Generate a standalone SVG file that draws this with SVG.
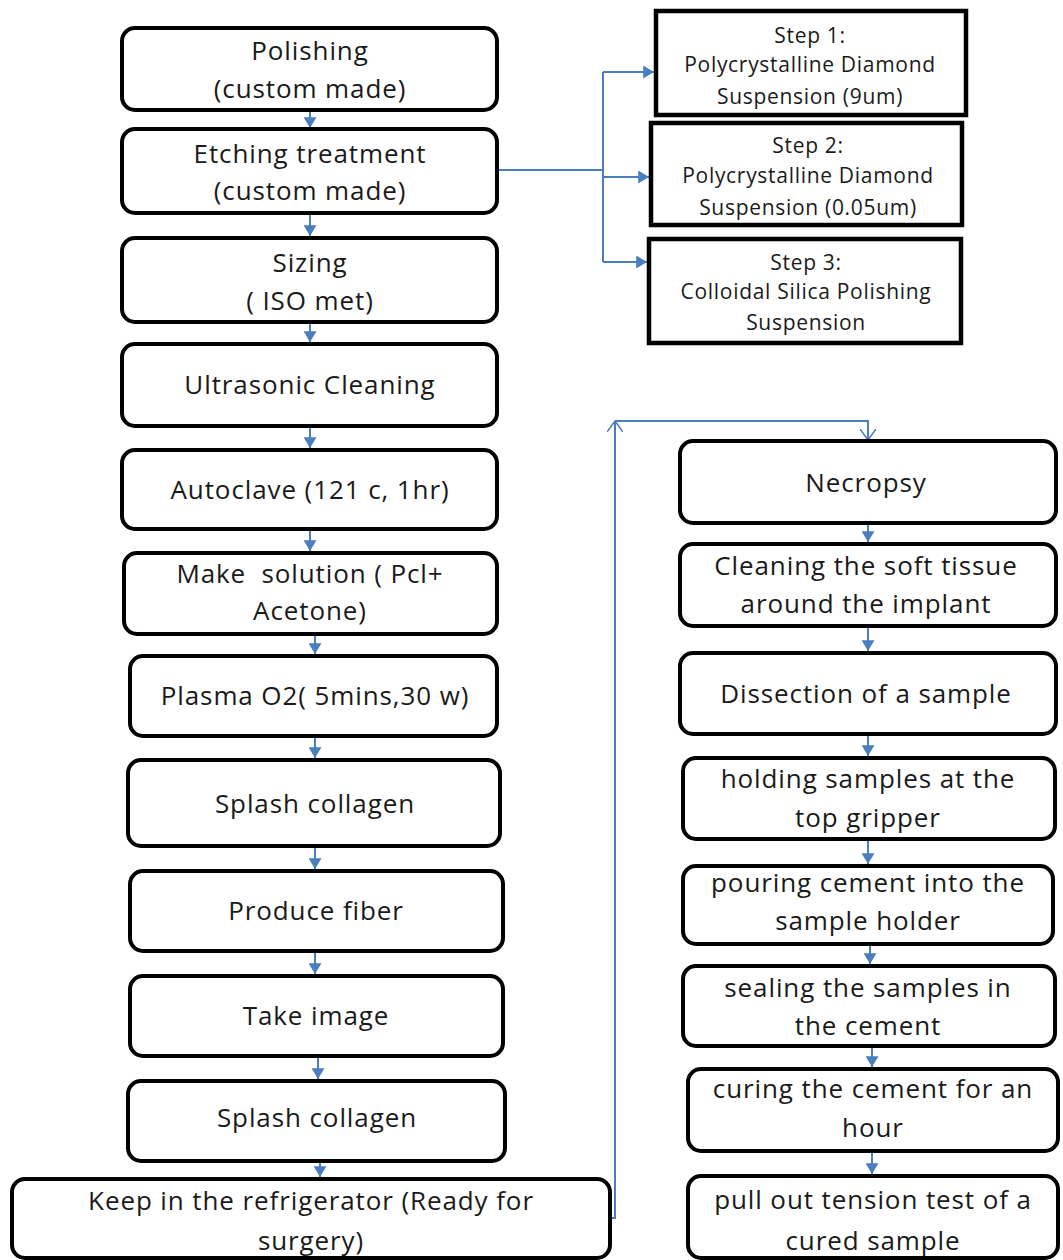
<svg xmlns="http://www.w3.org/2000/svg" width="1063" height="1260" viewBox="0 0 1063 1260">
<defs>
<style>
.b{fill:#fff;stroke:#000;stroke-width:4}
.s{fill:#fff;stroke:#000;stroke-width:4.5}
.t{font-family:"Open Sans","Liberation Sans",sans-serif;font-size:26px;letter-spacing:0.9px;fill:#1a1a1a;text-anchor:middle;dominant-baseline:central}
.u{font-family:"Open Sans","Liberation Sans",sans-serif;font-size:21px;letter-spacing:0.7px;fill:#1a1a1a;text-anchor:middle;dominant-baseline:central}
.c{fill:none;stroke:#4a7ebf;stroke-width:2}
</style>
<marker id="a" viewBox="0 0 10 12" refX="10" refY="6" markerWidth="11" markerHeight="13" markerUnits="userSpaceOnUse" orient="auto"><path d="M0,0L10,6L0,12z" fill="#4a7ebf"/></marker>
<marker id="o" viewBox="0 0 12 16" refX="11" refY="8" markerWidth="12" markerHeight="16" markerUnits="userSpaceOnUse" orient="auto"><path d="M0,0L11,8L0,16" fill="none" stroke="#4a7ebf" stroke-width="1.5"/></marker>
</defs>
<rect width="1063" height="1260" fill="#fff"/>
<g id="connectors">
<path class="c" marker-end="url(#a)" d="M310,110V128"/>
<path class="c" marker-end="url(#a)" d="M310,213V236"/>
<path class="c" marker-end="url(#a)" d="M310,322V342"/>
<path class="c" marker-end="url(#a)" d="M310,426V448"/>
<path class="c" marker-end="url(#a)" d="M310,529V551"/>
<path class="c" marker-end="url(#a)" d="M315,634V654"/>
<path class="c" marker-end="url(#a)" d="M315,736V758"/>
<path class="c" marker-end="url(#a)" d="M315,846V869"/>
<path class="c" marker-end="url(#a)" d="M315,951V974"/>
<path class="c" marker-end="url(#a)" d="M318,1056V1079"/>
<path class="c" marker-end="url(#a)" d="M320,1161V1177"/>
<path class="c" d="M497,170H603"/>
<path class="c" d="M603,262V72"/>
<path class="c" marker-end="url(#a)" d="M603,72H654"/>
<path class="c" marker-end="url(#a)" d="M603,177H649"/>
<path class="c" marker-end="url(#a)" d="M603,262H647"/>
<path class="c" marker-end="url(#o)" d="M610,1218H615V421"/>
<path class="c" marker-end="url(#o)" d="M615,421H868V440"/>
<path class="c" marker-end="url(#a)" d="M868,524V542"/>
<path class="c" marker-end="url(#a)" d="M868,626V651"/>
<path class="c" marker-end="url(#a)" d="M868,734V756"/>
<path class="c" marker-end="url(#a)" d="M868,839V864"/>
<path class="c" marker-end="url(#a)" d="M870,944V964"/>
<path class="c" marker-end="url(#a)" d="M872,1046V1067"/>
<path class="c" marker-end="url(#a)" d="M872,1151V1174"/>
</g>
<g id="polishing"><rect class="b" x="122" y="28" width="375" height="82" rx="13"/><text class="t" x="310" y="50">Polishing</text><text class="t" x="310" y="88">(custom made)</text></g>
<g id="etching"><rect class="b" x="122" y="129" width="375" height="84" rx="13"/><text class="t" x="310" y="153">Etching treatment</text><text class="t" x="310" y="190">(custom made)</text></g>
<g id="sizing"><rect class="b" x="122" y="238" width="375" height="84" rx="13"/><text class="t" x="310" y="262">Sizing</text><text class="t" x="310" y="300">( ISO met)</text></g>
<g id="ultrasonic"><rect class="b" x="122" y="344" width="375" height="82" rx="13"/><text class="t" x="310" y="384">Ultrasonic Cleaning</text></g>
<g id="autoclave"><rect class="b" x="122" y="450" width="375" height="79" rx="13"/><text class="t" x="310" y="489">Autoclave (121 c, 1hr)</text></g>
<g id="solution"><rect class="b" x="124" y="553" width="373" height="81" rx="13"/><text class="t" x="310" y="573" xml:space="preserve">Make  solution ( Pcl+</text><text class="t" x="310" y="610">Acetone)</text></g>
<g id="plasma"><rect class="b" x="130" y="656" width="367" height="80" rx="13"/><text class="t" x="315" y="695">Plasma O2( 5mins,30 w)</text></g>
<g id="splash1"><rect class="b" x="128" y="760" width="372" height="86" rx="13"/><text class="t" x="315" y="803">Splash collagen</text></g>
<g id="fiber"><rect class="b" x="130" y="871" width="373" height="80" rx="13"/><text class="t" x="316" y="910">Produce fiber</text></g>
<g id="image"><rect class="b" x="130" y="976" width="373" height="80" rx="13"/><text class="t" x="316" y="1015">Take image</text></g>
<g id="splash2"><rect class="b" x="128" y="1081" width="377" height="80" rx="13"/><text class="t" x="317" y="1117">Splash collagen</text></g>
<g id="refrigerator"><rect class="b" x="12" y="1179" width="598" height="79" rx="13"/><text class="t" x="311" y="1200">Keep in the refrigerator (Ready for</text><text class="t" x="311" y="1240">surgery)</text></g>
<g id="step1"><rect class="s" x="656" y="11" width="310" height="104"/><text class="u" x="810" y="35">Step 1:</text><text class="u" x="810" y="64">Polycrystalline Diamond</text><text class="u" x="810" y="96">Suspension (9um)</text></g>
<g id="step2"><rect class="s" x="651" y="123" width="311" height="102"/><text class="u" x="808" y="145">Step 2:</text><text class="u" x="808" y="175">Polycrystalline Diamond</text><text class="u" x="808" y="207">Suspension (0.05um)</text></g>
<g id="step3"><rect class="s" x="649" y="239" width="312" height="104"/><text class="u" x="806" y="262">Step 3:</text><text class="u" x="806" y="291">Colloidal Silica Polishing</text><text class="u" x="806" y="322">Suspension</text></g>
<g id="necropsy"><rect class="b" x="680" y="441" width="376" height="82" rx="13"/><text class="t" x="866" y="482">Necropsy</text></g>
<g id="cleaning"><rect class="b" x="680" y="544" width="376" height="82" rx="13"/><text class="t" x="866" y="565">Cleaning the soft tissue</text><text class="t" x="866" y="603">around the implant</text></g>
<g id="dissection"><rect class="b" x="680" y="653" width="376" height="81" rx="13"/><text class="t" x="866" y="693">Dissection of a sample</text></g>
<g id="holding"><rect class="b" x="683" y="758" width="372" height="81" rx="13"/><text class="t" x="868" y="778">holding samples at the</text><text class="t" x="868" y="817">top gripper</text></g>
<g id="pouring"><rect class="b" x="683" y="866" width="370" height="78" rx="13"/><text class="t" x="868" y="882">pouring cement into the</text><text class="t" x="868" y="920">sample holder</text></g>
<g id="sealing"><rect class="b" x="683" y="966" width="372" height="80" rx="13"/><text class="t" x="868" y="987">sealing the samples in</text><text class="t" x="868" y="1025">the cement</text></g>
<g id="curing"><rect class="b" x="688" y="1069" width="370" height="82" rx="13"/><text class="t" x="873" y="1088">curing the cement for an</text><text class="t" x="873" y="1127">hour</text></g>
<g id="pullout"><rect class="b" x="688" y="1176" width="370" height="82" rx="13"/><text class="t" x="873" y="1199">pull out tension test of a</text><text class="t" x="873" y="1240">cured sample</text></g>
</svg>
